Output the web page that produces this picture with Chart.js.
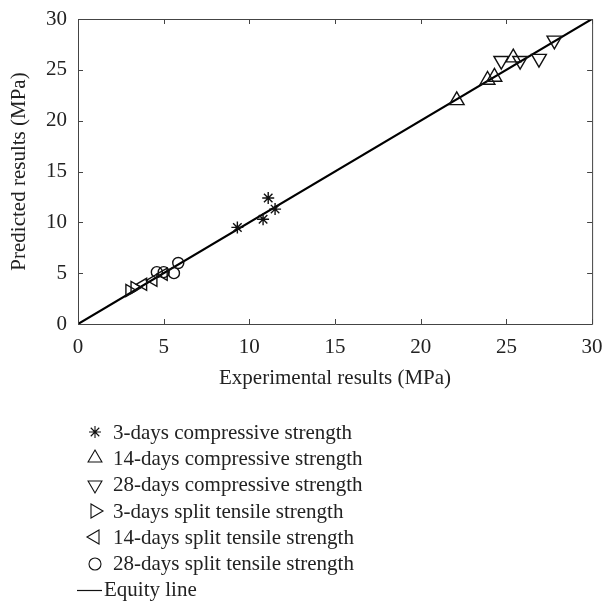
<!DOCTYPE html>
<html>
<head>
<meta charset="utf-8">
<script src="https://cdn.jsdelivr.net/npm/chart.js@4.4.0/dist/chart.umd.min.js"></script>
<style>
    html, body { margin: 0; padding: 0; background: #fff; }
    #wrap { position: relative; width: 602px; height: 601px; font-family: "Liberation Serif", serif; color: #222; }
    #chart { position: absolute; left: 0; top: 0; }
    #legend { position: absolute; left: 77px; top: 419px; }
    .row { height: 26.3px; display: flex; align-items: center; font-size: 21px; white-space: nowrap; }
    .row canvas { display: block; }
</style>
</head>
<body>
<div id="wrap">
    <canvas id="chart" width="602" height="400"></canvas>
    <div id="legend"></div>
</div>
<script>
// axis text
const xTitle = 'Experimental results (MPa)';
const yTitle = 'Predicted results (MPa)';
const axisMin = 0, axisMax = 30, axisStep = 5;

// series names (legend order)
const seriesNames = [
    '3-days compressive strength',
    '14-days compressive strength',
    '28-days compressive strength',
    '3-days split tensile strength',
    '14-days split tensile strength',
    '28-days split tensile strength',
    'Equity line'
];

// values: x = experimental, y = predicted
const comp3X = [9.3, 10.8, 11.1, 11.5];
const comp3Y = [9.5, 10.3, 12.4, 11.3];
const comp14X = [22.1, 23.9, 24.3, 25.4];
const comp14Y = [22.0, 24.0, 24.3, 26.2];
const comp28X = [24.7, 25.8, 26.9, 27.8];
const comp28Y = [25.9, 25.9, 26.1, 27.9];
const split3X = [3.0, 3.3];
const split3Y = [3.3, 3.6];
const split14X = [3.8, 4.4, 5.0];
const split14Y = [3.9, 4.3, 4.9];
const split28X = [4.6, 5.0, 5.6, 5.85];
const split28Y = [5.1, 5.1, 5.0, 6.0];
const equityX = [0, 30];
const equityY = [0, 30];

const pts = (xs, ys) => xs.map((v, i) => ({ x: v, y: ys[i] }));

const markers = [
    { style: 'star', rot: 0, r: 6 },
    { style: 'triangle', rot: 0, r: 8.5 },
    { style: 'triangle', rot: 180, r: 8.5 },
    { style: 'triangle', rot: 90, r: 7 },
    { style: 'triangle', rot: -90, r: 7 },
    { style: 'circle', rot: 0, r: 5.5 }
];
const seriesData = [
    pts(comp3X, comp3Y), pts(comp14X, comp14Y), pts(comp28X, comp28Y),
    pts(split3X, split3Y), pts(split14X, split14Y), pts(split28X, split28Y)
];

const datasets = seriesData.map((d, i) => ({
    label: seriesNames[i],
    data: d,
    showLine: false,
    pointStyle: markers[i].style,
    pointRotation: markers[i].rot,
    pointRadius: markers[i].r,
    pointHoverRadius: markers[i].r,
    pointBorderColor: '#111',
    pointBackgroundColor: 'rgba(0,0,0,0)',
    pointBorderWidth: 1.4
}));
datasets.push({
    label: seriesNames[6],
    data: pts(equityX, equityY),
    showLine: true,
    borderColor: '#000',
    borderWidth: 2.2,
    pointRadius: 0,
    order: 10
});

// MATLAB style box with inward ticks on all four sides
const boxTicks = {
    id: 'boxTicks',
    afterDraw(chart) {
        const { ctx, chartArea: a, scales: { x, y } } = chart;
        const len = 5;
        ctx.save();
        ctx.strokeStyle = '#444';
        ctx.lineWidth = 1;
        ctx.beginPath();
        ctx.rect(a.left + 0.5, a.top + 0.5, a.right - a.left, a.bottom - a.top);
        x.ticks.forEach(t => {
            const px = Math.round(x.getPixelForValue(t.value)) + 0.5;
            ctx.moveTo(px, a.bottom); ctx.lineTo(px, a.bottom - len);
            ctx.moveTo(px, a.top); ctx.lineTo(px, a.top + len);
        });
        y.ticks.forEach(t => {
            const py = Math.round(y.getPixelForValue(t.value)) + 0.5;
            ctx.moveTo(a.left, py); ctx.lineTo(a.left + len, py);
            ctx.moveTo(a.right, py); ctx.lineTo(a.right - len, py);
        });
        ctx.stroke();
        ctx.restore();
    }
};

const serif = { family: '"Liberation Serif", serif', size: 21 };

new Chart(document.getElementById('chart'), {
    type: 'scatter',
    data: { datasets },
    options: {
        responsive: false,
        animation: false,
        devicePixelRatio: 1,
        layout: { padding: { left: 0, right: 9, top: 19, bottom: 0 } },
        plugins: { legend: { display: false }, tooltip: { enabled: false } },
        scales: {
            x: {
                min: axisMin, max: axisMax,
                ticks: { stepSize: axisStep, color: '#222', font: serif, padding: 11, maxRotation: 0 },
                grid: { display: false, drawTicks: false },
                border: { display: false },
                title: { display: true, text: xTitle, color: '#222', font: serif, padding: { top: 4, bottom: 9 } },
                afterFit: s => { s.height = 76; s.paddingLeft = 0; s.paddingRight = 0; }
            },
            y: {
                min: axisMin, max: axisMax,
                ticks: { stepSize: axisStep, color: '#222', font: serif, padding: 11 },
                grid: { display: false, drawTicks: false },
                border: { display: false },
                title: { display: true, text: yTitle, color: '#222', font: serif, padding: { top: 7, bottom: 0 } },
                afterFit: s => { s.width = 78; s.paddingTop = 0; s.paddingBottom = 0; }
            }
        }
    },
    plugins: [boxTicks]
});

// legend below the plot, one entry per row
const legend = document.getElementById('legend');
seriesNames.forEach((name, i) => {
    const row = document.createElement('div');
    row.className = 'row';
    const c = document.createElement('canvas');
    const w = i < 6 ? 36 : 27;
    c.width = w; c.height = 26;
    const g = c.getContext('2d');
    g.strokeStyle = '#111';
    g.fillStyle = 'rgba(0,0,0,0)';
    if (i < 6) {
        const m = markers[i];
        g.lineWidth = 1.1;
        Chart.helpers.drawPoint(g, {
            pointStyle: m.style, rotation: m.rot,
            radius: m.style === 'triangle' ? 8 : 6, borderWidth: 1.1
        }, 18, 13);
    } else {
        g.lineWidth = 1.2;
        g.beginPath(); g.moveTo(0, 13.5); g.lineTo(25, 13.5); g.stroke();
    }
    const span = document.createElement('span');
    span.textContent = name;
    row.appendChild(c);
    row.appendChild(span);
    legend.appendChild(row);
});
</script>
</body>
</html>
